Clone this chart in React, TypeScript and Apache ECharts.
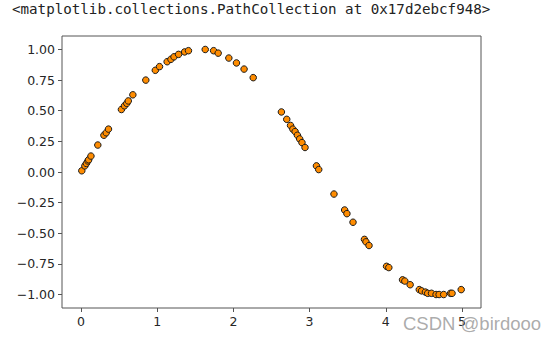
import React, { useEffect, useRef } from "react";
import * as echarts from "echarts";

const xValues = [
  0.01, 0.05, 0.07, 0.09, 0.1, 0.13, 0.22, 0.3, 0.33, 0.36,
  0.53, 0.57, 0.6, 0.62, 0.68, 0.85, 0.975, 1.03, 1.13, 1.18,
  1.22, 1.28, 1.36, 1.41, 1.63, 1.74, 1.8, 1.94, 2.04, 2.14,
  2.26, 2.63, 2.7, 2.75, 2.78, 2.81, 2.84, 2.87, 2.9, 2.94,
  3.09, 3.12, 3.32, 3.46, 3.49, 3.57, 3.72, 3.74, 3.78, 4.01,
  4.04, 4.22, 4.25, 4.32, 4.44, 4.47, 4.52, 4.55, 4.6, 4.66,
  4.7, 4.76, 4.85, 4.87, 4.99,
];
const yValues = [
  0.01, 0.05, 0.07, 0.09, 0.1, 0.13, 0.22, 0.3, 0.32, 0.35,
  0.51, 0.54, 0.56, 0.58, 0.63, 0.75, 0.83, 0.86, 0.9, 0.92,
  0.94, 0.96, 0.98, 0.99, 1.0, 0.99, 0.97, 0.93, 0.89, 0.84,
  0.77, 0.49, 0.43, 0.38, 0.35, 0.33, 0.3, 0.27, 0.24, 0.2,
  0.05, 0.02, -0.18, -0.31, -0.34, -0.41, -0.55, -0.57, -0.6, -0.77,
  -0.78, -0.88, -0.89, -0.92, -0.96, -0.97, -0.98, -0.99, -0.99, -1.0,
  -1.0, -1.0, -0.99, -0.99, -0.96,
];
const xTicks = [0, 1, 2, 3, 4, 5];
const yTicks = [-1, -0.75, -0.5, -0.25, 0, 0.25, 0.5, 0.75, 1];
const outputText = "<matplotlib.collections.PathCollection at 0x17d2ebcf948>";
const watermark = "CSDN @birdooo";

export default function App() {
  const ref = useRef<HTMLDivElement>(null);
  useEffect(() => {
    if (!ref.current) return;
    const chart = echarts.init(ref.current, null, { renderer: "svg" });
    const data = xValues.map((x, i) => [x, yValues[i]]);
    const labelColor = "#262626";
    chart.setOption({
      animation: false,
      backgroundColor: "#ffffff",
      grid: {
        left: 62,
        top: 36,
        right: 74,
        bottom: 34,
        show: true,
        borderColor: "#555",
        borderWidth: 1,
        backgroundColor: "transparent",
      },
      xAxis: {
        type: "value",
        min: -0.25,
        max: 5.25,
        splitLine: { show: false },
        axisLine: { show: false, onZero: false },
        axisTick: {
          show: true,
          customValues: xTicks,
          length: 4,
          lineStyle: { color: "#555" },
        },
        axisLabel: {
          customValues: xTicks,
          color: labelColor,
          fontFamily: "DejaVu Sans",
          fontSize: 12.5,
          margin: 7,
          formatter: (v: number) => String(v),
        },
      },
      yAxis: {
        type: "value",
        min: -1.11,
        max: 1.11,
        splitLine: { show: false },
        axisLine: { show: false, onZero: false },
        axisTick: {
          show: true,
          customValues: yTicks,
          length: 4,
          lineStyle: { color: "#555" },
        },
        axisLabel: {
          customValues: yTicks,
          color: labelColor,
          fontFamily: "DejaVu Sans",
          fontSize: 12.5,
          margin: 7,
          formatter: (v: number) => v.toFixed(2).replace("-", "\u2212"),
        },
      },
      series: [
        {
          type: "scatter",
          data,
          symbol: "circle",
          symbolSize: 6.5,
          itemStyle: {
            color: "#ff8c00",
            borderColor: "#1a1a1a",
            borderWidth: 1,
            opacity: 1,
          },
        },
      ],
      graphic: [
        {
          type: "text",
          left: 12,
          top: 2,
          style: {
            text: outputText,
            fontFamily: "DejaVu Sans Mono",
            fontSize: 14.2,
            fill: "#222",
          },
        },
        {
          type: "text",
          left: 403,
          top: 314,
          z: 100,
          style: {
            text: watermark,
            fontFamily: "Liberation Sans",
            fontSize: 18.5,
            fill: "rgba(150,150,150,0.8)",
          },
        },
      ],
    });
    return () => chart.dispose();
  }, []);
  return (
    <div
      ref={ref}
      style={{ position: "fixed", left: 0, top: 0, width: 555, height: 342 }}
    />
  );
}
